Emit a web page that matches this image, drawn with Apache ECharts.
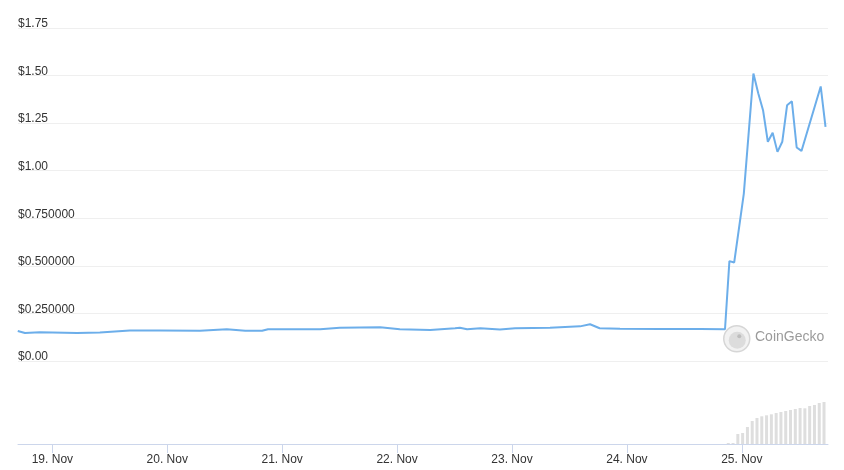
<!DOCTYPE html>
<html>
<head>
<meta charset="utf-8">
<script src="https://cdn.jsdelivr.net/npm/echarts@6/dist/echarts.min.js"></script>
<style>
  html, body { margin: 0; padding: 0; background: #fff; }
  #chart { width: 844px; height: 470px; }
</style>
</head>
<body>
<div id="chart"></div>
<script>
// ---- Data ----
const priceTimes = [
  '2024-11-18 17:05', '2024-11-18 18:35', '2024-11-18 21:40', '2024-11-19 05:25',
  '2024-11-19 10:10', '2024-11-19 16:25', '2024-11-19 22:40', '2024-11-20 07:00',
  '2024-11-20 12:35', '2024-11-20 16:25', '2024-11-20 19:55', '2024-11-20 21:10',
  '2024-11-21 08:00', '2024-11-21 12:05', '2024-11-21 20:30', '2024-11-22 00:35',
  '2024-11-22 06:55', '2024-11-22 12:05', '2024-11-22 13:05', '2024-11-22 14:35',
  '2024-11-22 17:20', '2024-11-22 21:25', '2024-11-23 00:35', '2024-11-23 07:50',
  '2024-11-23 14:05', '2024-11-23 16:10', '2024-11-23 18:10', '2024-11-23 22:25',
  '2024-11-24 06:40', '2024-11-24 15:05', '2024-11-24 20:15', '2024-11-24 21:10',
  '2024-11-24 22:10', '2024-11-25 00:10', '2024-11-25 02:10', '2024-11-25 03:10',
  '2024-11-25 04:10', '2024-11-25 05:10', '2024-11-25 06:10', '2024-11-25 07:10',
  '2024-11-25 08:10', '2024-11-25 09:10', '2024-11-25 10:10', '2024-11-25 11:10',
  '2024-11-25 12:10', '2024-11-25 16:10', '2024-11-25 17:10'
];
const priceValues = [
  0.158, 0.147, 0.151, 0.147,
  0.150, 0.160, 0.160, 0.159,
  0.167, 0.159, 0.159, 0.167,
  0.167, 0.175, 0.177, 0.167,
  0.163, 0.172, 0.175, 0.167,
  0.172, 0.165, 0.172, 0.175,
  0.182, 0.193, 0.172, 0.170,
  0.168, 0.168, 0.167, 0.525,
  0.518, 0.880, 1.511, 1.407,
  1.318, 1.152, 1.199, 1.099,
  1.152, 1.344, 1.365, 1.122,
  1.104, 1.443, 1.230
];

const volumeTimes = [
  '2024-11-24 21:10', '2024-11-24 22:10', '2024-11-24 23:10', '2024-11-25 00:10',
  '2024-11-25 01:10', '2024-11-25 02:10', '2024-11-25 03:10', '2024-11-25 04:10',
  '2024-11-25 05:10', '2024-11-25 06:10', '2024-11-25 07:10', '2024-11-25 08:10',
  '2024-11-25 09:10', '2024-11-25 10:10', '2024-11-25 11:10', '2024-11-25 12:10',
  '2024-11-25 13:10', '2024-11-25 14:10', '2024-11-25 15:10', '2024-11-25 16:10',
  '2024-11-25 17:10'
];
const volumeValues = [
  1, 1, 10, 11, 17, 23, 26, 27.7, 28.7, 29.7, 31, 32, 33, 34, 35, 36, 35.7, 38, 39, 41, 42
];

const xMin = '2024-11-18 17:08';
const xMax = '2024-11-25 17:41';
const priceTicks = [0, 0.25, 0.5, 0.75, 1, 1.25, 1.5, 1.75];
const monthName = 'Nov';

// ---- Chart ----
const FONT = 'Liberation Sans, Arial, sans-serif';
const chart = echarts.init(document.getElementById('chart'), null, { renderer: 'canvas' });

function priceLabel(v) {
  if (v === 0 || v >= 1) return '$' + v.toFixed(2);
  return '$' + v.toFixed(6);
}

const option = {
  animation: false,
  backgroundColor: '#ffffff',
  textStyle: { fontFamily: FONT },
  grid: [
    { left: 18, right: 16, top: 28, height: 333 },
    { left: 18, right: 16, top: 400, height: 44 }
  ],
  xAxis: [
    {
      type: 'time', gridIndex: 0, min: xMin, max: xMax,
      show: false
    },
    {
      type: 'time', gridIndex: 1, min: xMin, max: xMax,
      minInterval: 86400000, maxInterval: 86400000,
      axisLine: { show: true, lineStyle: { color: '#ccd6eb', width: 1 } },
      axisTick: { show: true, length: 9, lineStyle: { color: '#ccd6eb' } },
      splitLine: { show: false },
      axisLabel: {
        margin: 10,
        color: '#333333',
        fontSize: 12,
        fontFamily: FONT,
        showMinLabel: false,
        showMaxLabel: false,
        formatter: function (val) {
          const d = new Date(val);
          return d.getDate() + '. ' + monthName;
        }
      }
    }
  ],
  yAxis: [
    {
      type: 'value', gridIndex: 0,
      min: priceTicks[0], max: priceTicks[priceTicks.length - 1], interval: 0.25,
      axisLine: { show: false },
      axisTick: { show: false },
      splitLine: { show: true, lineStyle: { color: '#efefef', width: 1 } },
      axisLabel: {
        inside: true,
        margin: 0,
        verticalAlign: 'bottom',
        lineHeight: 8,
        padding: 0,
        color: '#333333',
        fontSize: 12,
        fontFamily: FONT,
        formatter: priceLabel
      }
    },
    {
      type: 'value', gridIndex: 1, min: 0, max: 44,
      show: false,
      splitLine: { show: false }
    }
  ],
  graphic: [
    {
      type: 'group',
      left: 723, top: 325,
      z: 0,
      children: [
        { type: 'circle', shape: { cx: 13.5, cy: 13.5, r: 13 },
          style: { fill: '#f2f2f2', stroke: '#d6d6d6', lineWidth: 1.5 } },
        { type: 'circle', shape: { cx: 14, cy: 15, r: 8.5 },
          style: { fill: '#dcdcdc' } },
        { type: 'circle', shape: { cx: 16, cy: 11, r: 2 },
          style: { fill: '#bdbdbd' } }
      ]
    },
    {
      type: 'text',
      left: 755, top: 330,
      z: 0,
      style: {
        text: 'CoinGecko',
        fill: '#9b9b9b',
        fontSize: 14,
        fontFamily: FONT
      }
    }
  ],
  series: [
    {
      type: 'line',
      xAxisIndex: 0, yAxisIndex: 0,
      data: priceTimes.map((t, i) => [t, priceValues[i]]),
      showSymbol: false,
      smooth: false,
      lineStyle: { color: '#6caeea', width: 2 },
      itemStyle: { color: '#6caeea' },
      z: 3
    },
    {
      type: 'bar',
      xAxisIndex: 1, yAxisIndex: 1,
      data: volumeTimes.map((t, i) => [t, volumeValues[i]]),
      barWidth: 3,
      itemStyle: { color: '#dedede' }
    }
  ]
};

chart.setOption(option);
</script>
</body>
</html>
